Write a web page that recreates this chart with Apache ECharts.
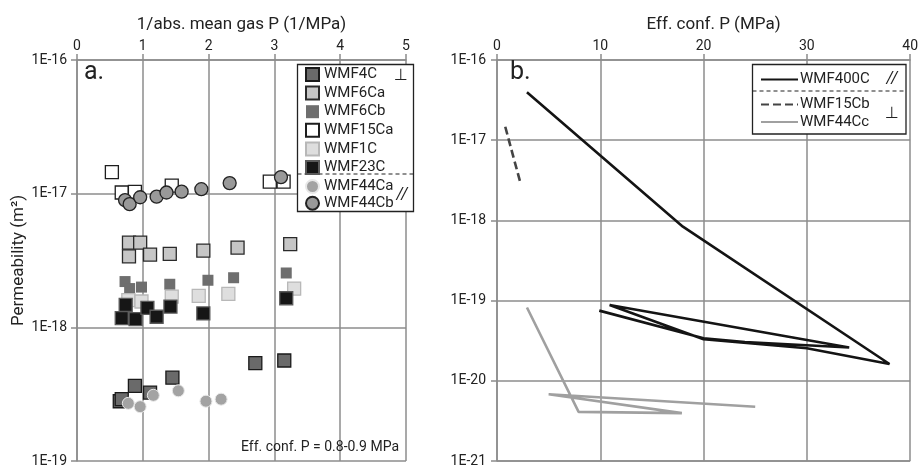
<!DOCTYPE html>
<html>
<head>
<meta charset="utf-8">
<script src="https://cdn.jsdelivr.net/npm/echarts@6/dist/echarts.min.js"></script>
<style>
  html, body { margin: 0; padding: 0; background: #fff; }
  #chart { width: 921px; height: 468px; }
</style>
</head>
<body>
<div id="chart"></div>
<script>
// ---- Panel a: permeability (m²) against 1/abs. mean gas pressure (1/MPa) ----
const wmf4cX   = [0.65, 0.68, 0.88, 1.11, 1.45, 2.71, 3.15];
const wmf4cK   = [2.8e-19, 2.9e-19, 3.65e-19, 3.25e-19, 4.2e-19, 5.4e-19, 5.65e-19];
const wmf6caX  = [0.79, 0.96, 0.79, 1.11, 1.41, 1.92, 2.44, 3.24];
const wmf6caK  = [4.3e-18, 4.3e-18, 3.4e-18, 3.5e-18, 3.55e-18, 3.75e-18, 3.95e-18, 4.2e-18];
const wmf6cbX  = [0.73, 0.80, 0.98, 1.41, 1.99, 2.38, 3.18];
const wmf6cbK  = [2.2e-18, 1.95e-18, 2.0e-18, 2.1e-18, 2.25e-18, 2.35e-18, 2.55e-18];
const wmf15caX = [0.53, 0.68, 0.88, 1.44, 2.93, 3.14];
const wmf15caK = [1.45e-17, 1.02e-17, 1.03e-17, 1.15e-17, 1.23e-17, 1.23e-17];
const wmf1cX   = [0.78, 0.98, 1.44, 1.85, 2.30, 3.30];
const wmf1cK   = [1.6e-18, 1.56e-18, 1.7e-18, 1.72e-18, 1.78e-18, 1.95e-18];
const wmf23cX  = [0.74, 0.68, 0.89, 1.07, 1.21, 1.42, 1.92, 3.18];
const wmf23cK  = [1.47e-18, 1.17e-18, 1.15e-18, 1.4e-18, 1.2e-18, 1.43e-18, 1.27e-18, 1.65e-18];
const wmf44caX = [0.78, 0.96, 1.16, 1.54, 1.96, 2.19];
const wmf44caK = [2.7e-19, 2.55e-19, 3.1e-19, 3.35e-19, 2.8e-19, 2.9e-19];
const wmf44cbX = [0.73, 0.80, 0.96, 1.21, 1.36, 1.59, 1.89, 2.32, 3.10];
const wmf44cbK = [8.95e-18, 8.35e-18, 9.4e-18, 9.5e-18, 1.02e-17, 1.035e-17, 1.08e-17, 1.2e-17, 1.33e-17];

// ---- Panel b: permeability (m²) against effective confining pressure (MPa) ----
const wmf400cP = [2.9, 18.0, 38.0, 30.0, 20.0, 10.9, 34.1, 24.0, 20.0, 9.9];
const wmf400cK = [3.95e-17, 8.35e-19, 1.62e-20, 2.55e-20, 3.3e-20, 8.8e-20, 2.6e-20, 3.05e-20, 3.4e-20, 7.5e-20];
const wmf15cbP = [0.8, 1.5, 2.25];
const wmf15cbK = [1.47e-17, 6.8e-18, 3.0e-18];
const wmf44ccP = [2.9, 7.9, 17.9, 5.0, 25.0];
const wmf44ccK = [8.2e-20, 4.1e-21, 3.95e-21, 6.8e-21, 4.75e-21];

// Axis ranges and ticks
const xTicksA = [0, 1, 2, 3, 4, 5];
const xTicksB = [0, 10, 20, 30, 40];
const kRangeA = [1e-19, 1e-16];
const kRangeB = [1e-21, 1e-16];

// Permeabilities are tiny; the log axes work in units of 1e-21 m² and the
// labels convert back to the "1E-nn" notation.
const K_EXP = 21;
const K_SCALE = Math.pow(10, K_EXP);
const pairs = (xs, ks) => xs.map((x, i) => [x, ks[i] * K_SCALE]);
const expLabel = v => '1E' + (Math.round(Math.log10(v)) - K_EXP);

const FONT = 'Roboto';
const INK = '#222';
const GRID = '#8c8c8c';

function xAxisOf(grid, ticks, name, namePad) {
  return {
    gridIndex: grid, type: 'value', position: 'top',
    min: ticks[0], max: ticks[ticks.length - 1], interval: ticks[1] - ticks[0],
    name: name, nameLocation: 'middle', nameGap: 27,
    nameTextStyle: { fontFamily: FONT, fontSize: 17, color: INK, padding: namePad },
    axisLine: { show: true, lineStyle: { color: GRID, width: 1.5 } },
    axisTick: { show: true, length: 6, lineStyle: { color: GRID, width: 1.5 } },
    axisLabel: { fontFamily: FONT, fontSize: 14, color: INK, margin: 7 },
    splitLine: { show: true, lineStyle: { color: GRID, width: 1.5 } }
  };
}
function yAxisOf(grid, range, name, margin) {
  return {
    gridIndex: grid, type: 'log', logBase: 10,
    min: range[0] * K_SCALE, max: range[1] * K_SCALE,
    name: name, nameLocation: 'middle', nameGap: 50, nameRotate: 90,
    nameTextStyle: { fontFamily: FONT, fontSize: 17, color: INK },
    axisLine: { show: true, lineStyle: { color: GRID, width: 1.5 } },
    axisTick: { show: true, length: 6, lineStyle: { color: GRID, width: 1.5 } },
    axisLabel: { fontFamily: FONT, fontSize: 14, color: INK, margin: margin, formatter: expLabel },
    splitLine: { show: true, lineStyle: { color: GRID, width: 1.5 } },
    minorTick: { show: false }
  };
}
function scatter(name, xs, ks, symbol, size, fill, border, bw) {
  return {
    type: 'scatter', name: name, xAxisIndex: 0, yAxisIndex: 0,
    data: pairs(xs, ks), symbol: symbol, symbolSize: size,
    itemStyle: { color: fill, borderColor: border, borderWidth: bw, opacity: 1 },
    emphasis: { disabled: true }, silent: true
  };
}
function curve(name, ps, ks, color, width, type) {
  return {
    type: 'line', name: name, xAxisIndex: 1, yAxisIndex: 1,
    data: pairs(ps, ks), symbol: 'none', smooth: false,
    lineStyle: { color: color, width: width, type: type },
    itemStyle: { color: color },
    emphasis: { disabled: true }, silent: true
  };
}

const legendText = { fontFamily: FONT, fontSize: 15, color: INK, lineHeight: 14 };
const legendBase = { orient: 'vertical', padding: 0, selectedMode: false, textStyle: legendText, itemWidth: 13, itemHeight: 13 };
// line legends show only the stroke sample, no marker
const lineLegend = Object.assign({}, legendBase, { itemWidth: 37, itemStyle: { opacity: 0 }, textStyle: Object.assign({}, legendText, { padding: [0, 0, 0, -3] }) });

const option = {
  animation: false,
  backgroundColor: '#fff',
  textStyle: { fontFamily: FONT },
  grid: [
    { left: 77, top: 60, width: 329, height: 401.5 },
    { left: 497, top: 60, width: 416, height: 401 }
  ],
  xAxis: [
    xAxisOf(0, xTicksA, '1/abs. mean gas P (1/MPa)', [0, 0, 0, 0]),
    xAxisOf(1, xTicksB, 'Eff. conf. P (MPa)', [0, 0, 0, 20])
  ],
  yAxis: [
    yAxisOf(0, kRangeA, 'Permeability (m²)', 10),
    yAxisOf(1, kRangeB, '', 11)
  ],
  legend: [
    Object.assign({}, legendBase, { data: ['WMF4C', 'WMF6Ca', 'WMF6Cb', 'WMF15Ca', 'WMF1C', 'WMF23C'], left: 305, top: 67, itemGap: 3.6 }),
    Object.assign({}, legendBase, { data: ['WMF44Ca', 'WMF44Cb'], left: 305, top: 179, itemGap: 1.7 }),
    Object.assign({}, lineLegend, { data: ['WMF400C'], left: 760, top: 72 }),
    Object.assign({}, lineLegend, { data: ['WMF15Cb', 'WMF44Cc'], left: 760, top: 97, itemGap: 2.6 })
  ],
  series: [
    scatter('WMF4C',   wmf4cX,   wmf4cK,   'rect',   13, '#6a6a6a', '#1a1a1a', 1.3),
    scatter('WMF6Ca',  wmf6caX,  wmf6caK,  'rect',   13, '#c6c6c6', '#2a2a2a', 1.3),
    scatter('WMF6Cb',  wmf6cbX,  wmf6cbK,  'rect',   11, '#6e6e6e', '#6e6e6e', 0),
    scatter('WMF15Ca', wmf15caX, wmf15caK, 'rect',   13, '#ffffff', '#1e1e1e', 1.3),
    scatter('WMF1C',   wmf1cX,   wmf1cK,   'rect',   13, '#dedede', '#b8b8b8', 1.3),
    scatter('WMF23C',  wmf23cX,  wmf23cK,  'rect',   13, '#161616', '#5a5a5a', 1.3),
    scatter('WMF44Ca', wmf44caX, wmf44caK, 'circle', 12, '#a3a3a3', '#e8e8e8', 1),
    scatter('WMF44Cb', wmf44cbX, wmf44cbK, 'circle', 13, '#999999', '#222222', 1.3),
    curve('WMF400C', wmf400cP, wmf400cK, '#141414', 2.6, 'solid'),
    curve('WMF15Cb', wmf15cbP, wmf15cbK, '#444444', 2.6, [8, 4]),
    curve('WMF44Cc', wmf44ccP, wmf44ccK, '#a0a0a0', 2.6, 'solid')
  ],
  graphic: [
    // legend frames with the dashed divider between the two groups
    { type: 'rect', z: 3, shape: { x: 297.5, y: 64.5, width: 116, height: 147 },
      style: { fill: '#fff', stroke: INK, lineWidth: 1.3 } },
    { type: 'line', z: 3, shape: { x1: 297.5, y1: 174, x2: 413.5, y2: 174 },
      style: { stroke: INK, lineWidth: 1.2, lineDash: [4, 3] } },
    { type: 'rect', z: 3, shape: { x: 752.5, y: 64.5, width: 153.5, height: 69.5 },
      style: { fill: '#fff', stroke: INK, lineWidth: 1.3 } },
    { type: 'line', z: 3, shape: { x1: 752.5, y1: 91, x2: 906, y2: 91 },
      style: { stroke: INK, lineWidth: 1.2, lineDash: [4, 3] } },
    // orientation marks
    { type: 'text', z: 6, style: { x: 401, y: 76, text: '⊥', fontFamily: 'DejaVu Sans', fontSize: 16, fill: INK, align: 'center', verticalAlign: 'middle' } },
    { type: 'text', z: 6, style: { x: 402, y: 195, text: '//', fontFamily: FONT, fontStyle: 'italic', fontSize: 16, fill: INK, align: 'center', verticalAlign: 'middle' } },
    { type: 'text', z: 6, style: { x: 892, y: 79, text: '//', fontFamily: FONT, fontStyle: 'italic', fontSize: 16, fill: INK, align: 'center', verticalAlign: 'middle' } },
    { type: 'text', z: 6, style: { x: 892, y: 114, text: '⊥', fontFamily: 'DejaVu Sans', fontSize: 16, fill: INK, align: 'center', verticalAlign: 'middle' } },
    // panel letters and the pressure note
    { type: 'text', z: 6, style: { x: 84, y: 73, text: 'a.', fontFamily: FONT, fontSize: 25, fill: INK, align: 'left', verticalAlign: 'middle' } },
    { type: 'text', z: 6, style: { x: 510, y: 73, text: 'b.', fontFamily: FONT, fontSize: 25, fill: INK, align: 'left', verticalAlign: 'middle' } },
    { type: 'text', z: 6, style: { x: 399, y: 447, text: 'Eff. conf. P = 0.8-0.9 MPa', fontFamily: FONT, fontSize: 14, fill: INK, align: 'right', verticalAlign: 'middle' } }
  ]
};

const chart = echarts.init(document.getElementById('chart'), null, { renderer: 'canvas' });
chart.setOption(option);
</script>
</body>
</html>
